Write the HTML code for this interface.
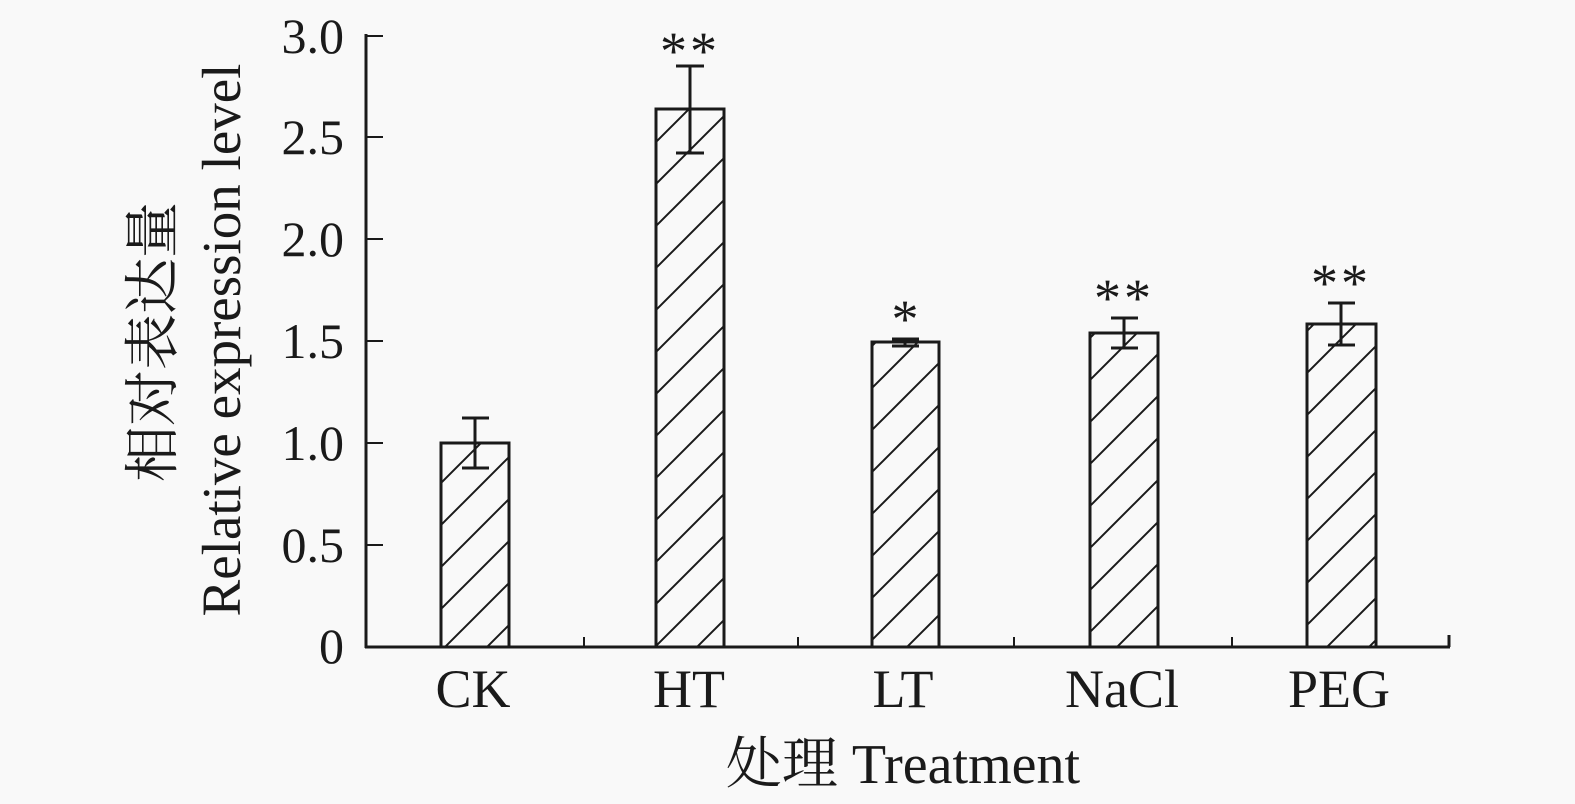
<!DOCTYPE html>
<html><head><meta charset="utf-8"><style>
html,body{margin:0;padding:0;background:#f9f9f9;}
svg{display:block;}
text{font-family:"Liberation Serif","Noto Serif CJK SC",serif;fill:#1a1a1a;}
</style></head><body>
<svg width="1575" height="804" viewBox="0 0 1575 804" xmlns="http://www.w3.org/2000/svg">
<defs>
<pattern id="h" patternUnits="userSpaceOnUse" width="42" height="42">
<line x1="-2" y1="44" x2="44" y2="-2" stroke="#1a1a1a" stroke-width="2"/>
<line x1="-4" y1="4" x2="4" y2="-4" stroke="#1a1a1a" stroke-width="2"/>
<line x1="38" y1="46" x2="46" y2="38" stroke="#1a1a1a" stroke-width="2"/>
</pattern>
</defs>
<rect width="1575" height="804" fill="#f9f9f9"/>
<g stroke="#1a1a1a" stroke-width="3" fill="none">
<line x1="366" y1="34" x2="366" y2="648"/>
<line x1="365" y1="647" x2="1450" y2="647"/>
<line x1="1449" y1="647" x2="1449" y2="635"/>
<line x1="584" y1="647" x2="584" y2="637" stroke-width="2"/>
<line x1="798" y1="647" x2="798" y2="637" stroke-width="2"/>
<line x1="1014" y1="647" x2="1014" y2="637" stroke-width="2"/>
<line x1="1232" y1="647" x2="1232" y2="637" stroke-width="2"/>
<g stroke-width="2">
<line x1="366" y1="36" x2="383" y2="36"/>
<line x1="366" y1="137" x2="383" y2="137"/>
<line x1="366" y1="239" x2="383" y2="239"/>
<line x1="366" y1="341" x2="383" y2="341"/>
<line x1="366" y1="443" x2="383" y2="443"/>
<line x1="366" y1="545" x2="383" y2="545"/>
</g>
</g>
<g font-size="50" text-anchor="end">
<text x="344" y="53">3.0</text>
<text x="344" y="154">2.5</text>
<text x="344" y="256">2.0</text>
<text x="344" y="358">1.5</text>
<text x="344" y="460">1.0</text>
<text x="344" y="562">0.5</text>
<text x="344" y="663">0</text>
</g>
<g stroke="#1a1a1a" stroke-width="3" fill="url(#h)">
<rect x="441" y="443" width="68" height="204"/>
<rect x="656" y="109" width="68" height="538"/>
<rect x="872" y="342" width="67" height="305"/>
<rect x="1090" y="333" width="68" height="314"/>
<rect x="1307" y="324" width="69" height="323"/>
</g>
<g stroke="#1a1a1a" stroke-width="3">
<line x1="475" y1="418" x2="475" y2="468"/><line x1="462" y1="418" x2="489" y2="418"/><line x1="462" y1="468" x2="489" y2="468"/>
<line x1="690" y1="66" x2="690" y2="153"/><line x1="676" y1="66" x2="704" y2="66"/><line x1="676" y1="153" x2="704" y2="153"/>
<line x1="905" y1="339" x2="905" y2="346"/><line x1="892" y1="339" x2="919" y2="339"/><line x1="892" y1="346" x2="919" y2="346"/>
<line x1="1124" y1="318" x2="1124" y2="348"/><line x1="1111" y1="318" x2="1138" y2="318"/><line x1="1111" y1="348" x2="1138" y2="348"/>
<line x1="1341" y1="303" x2="1341" y2="345"/><line x1="1328" y1="303" x2="1355" y2="303"/><line x1="1328" y1="345" x2="1355" y2="345"/>
</g>
<g font-size="54" text-anchor="middle">
<text x="690" y="69" letter-spacing="3">**</text>
<text x="905" y="337">*</text>
<text x="1124" y="316" letter-spacing="3">**</text>
<text x="1341" y="301" letter-spacing="3">**</text>
</g>
<g font-size="54" text-anchor="middle">
<text x="473" y="707">CK</text>
<text x="689" y="707">HT</text>
<text x="903" y="707">LT</text>
<text x="1122" y="707">NaCl</text>
<text x="1339" y="707">PEG</text>
</g>
<text font-size="56" text-anchor="middle" x="903" y="783">处理 Treatment</text>
<text font-size="55" text-anchor="middle" transform="translate(240,340) rotate(-90)">Relative expression level</text>
<text font-size="56" text-anchor="middle" transform="translate(172,342) rotate(-90)">相对表达量</text>
</svg>
</body></html>
